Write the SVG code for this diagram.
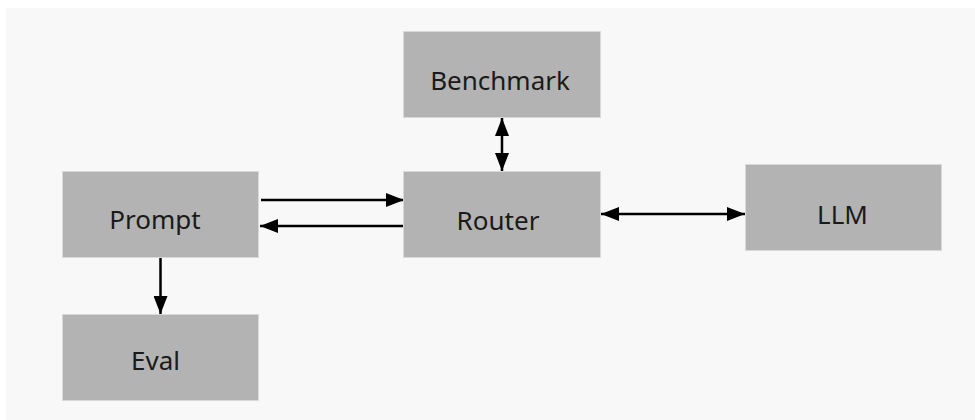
<svg xmlns="http://www.w3.org/2000/svg" width="975" height="420" viewBox="0 0 975 420">
  <style>
    .box { fill: #b3b3b3; stroke: #d9d9d9; stroke-width: 1; }
    .lbl { font-family: "Noto Sans", "Open Sans", sans-serif; font-size: 26px; fill: #1a1a1a; text-anchor: middle; }
    .edge { stroke: #000; stroke-width: 2.5; fill: none; }
  </style>
  <defs>
    <marker id="ah" viewBox="0 0 18 14" refX="18" refY="7" markerUnits="userSpaceOnUse" markerWidth="18" markerHeight="14" orient="auto-start-reverse">
      <path d="M0,0 L18,7 L0,14 Z" fill="#000"/>
    </marker>
  </defs>
  <rect x="0" y="0" width="975" height="420" fill="#ffffff"/>
  <rect x="6" y="8" width="969" height="412" fill="#f8f8f8"/>

  <g id="connectors">
    <line class="edge" x1="261" y1="200" x2="404" y2="200" marker-end="url(#ah)"/>
    <line class="edge" x1="403" y1="226" x2="260" y2="226" marker-end="url(#ah)"/>
    <line class="edge" x1="601" y1="214" x2="745" y2="214" marker-start="url(#ah)" marker-end="url(#ah)"/>
    <line class="edge" x1="502" y1="118" x2="502" y2="171" marker-start="url(#ah)" marker-end="url(#ah)"/>
    <line class="edge" x1="160.5" y1="258" x2="160.5" y2="314" marker-end="url(#ah)"/>
  </g>

  <g id="benchmark">
    <rect class="box" x="403.5" y="31.5" width="197" height="86"/>
    <text class="lbl" x="500" y="90">Benchmark</text>
  </g>
  <g id="router">
    <rect class="box" x="403.5" y="171.5" width="197" height="86"/>
    <text class="lbl" x="498" y="229.5">Router</text>
  </g>
  <g id="prompt">
    <rect class="box" x="62.5" y="171.5" width="196" height="86"/>
    <text class="lbl" x="155" y="228.5">Prompt</text>
  </g>
  <g id="llm">
    <rect class="box" x="745.5" y="164.5" width="196" height="86"/>
    <text class="lbl" x="842.5" y="224">LLM</text>
  </g>
  <g id="eval">
    <rect class="box" x="62.5" y="314.5" width="196" height="86"/>
    <text class="lbl" x="155.5" y="369.5">Eval</text>
  </g>
</svg>
